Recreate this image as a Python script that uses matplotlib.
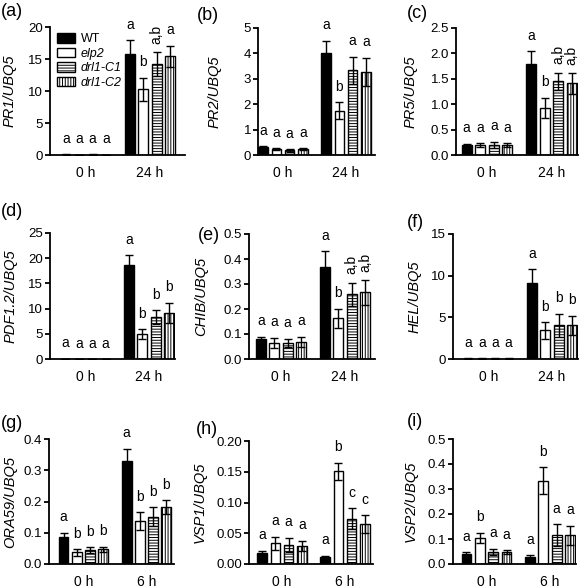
import matplotlib
matplotlib.use('Agg')
import matplotlib.pyplot as plt
from matplotlib.patches import Patch
from matplotlib.ticker import FormatStrFormatter
import numpy as np

plt.rcParams['font.family'] = ['Liberation Sans', 'DejaVu Sans']
plt.rcParams['hatch.linewidth'] = 0.7

# ---------------- data ----------------
genotypes = ['WT', 'elp2', 'drl1-C1', 'drl1-C2']
times_24 = ['0 h', '24 h']
times_6 = ['0 h', '6 h']

pr1_0h = [0.06, 0.05, 0.06, 0.05]
pr1_0h_err = [0.02, 0.02, 0.02, 0.02]
pr1_24h = [15.8, 10.3, 14.2, 15.4]
pr1_24h_err = [2.1, 1.8, 1.9, 1.7]
pr1_letters = ['a', 'a', 'a', 'a', 'a', 'b', 'a,b', 'a']

pr2_0h = [0.30, 0.22, 0.18, 0.22]
pr2_0h_err = [0.05, 0.04, 0.05, 0.04]
pr2_24h = [4.0, 1.75, 3.34, 3.28]
pr2_24h_err = [0.5, 0.33, 0.53, 0.55]
pr2_letters = ['a', 'a', 'a', 'a', 'a', 'b', 'a', 'a']

pr5_0h = [0.20, 0.19, 0.20, 0.19]
pr5_0h_err = [0.02, 0.04, 0.06, 0.04]
pr5_24h = [1.79, 0.93, 1.45, 1.41]
pr5_24h_err = [0.25, 0.20, 0.17, 0.20]
pr5_letters = ['a', 'a', 'a', 'a', 'a', 'b', 'a,b', 'a,b']

pdf_0h = [0.03, 0.02, 0.02, 0.02]
pdf_0h_err = [0.01, 0.01, 0.01, 0.01]
pdf_24h = [18.6, 4.9, 8.25, 9.2]
pdf_24h_err = [2.0, 1.0, 1.4, 2.0]
pdf_letters = ['a', 'a', 'a', 'a', 'a', 'b', 'b', 'b']

chib_0h = [0.080, 0.066, 0.064, 0.070]
chib_0h_err = [0.010, 0.020, 0.017, 0.020]
chib_24h = [0.370, 0.164, 0.259, 0.267]
chib_24h_err = [0.062, 0.038, 0.046, 0.049]
chib_letters = ['a', 'a', 'a', 'a', 'a', 'b', 'a,b', 'a,b']

hel_0h = [0.05, 0.05, 0.05, 0.05]
hel_0h_err = [0.02, 0.02, 0.02, 0.02]
hel_24h = [9.1, 3.43, 4.03, 4.03]
hel_24h_err = [1.7, 1.0, 1.4, 1.16]
hel_letters = ['a', 'a', 'a', 'a', 'a', 'b', 'b', 'b']

ora_0h = [0.088, 0.037, 0.044, 0.047]
ora_0h_err = [0.012, 0.011, 0.010, 0.009]
ora_6h = [0.330, 0.138, 0.152, 0.182]
ora_6h_err = [0.039, 0.028, 0.030, 0.023]
ora_letters = ['a', 'b', 'b', 'b', 'a', 'b', 'b', 'b']

vsp1_0h = [0.0173, 0.0335, 0.0308, 0.0297]
vsp1_0h_err = [0.0043, 0.011, 0.012, 0.008]
vsp1_6h = [0.0119, 0.151, 0.0735, 0.0649]
vsp1_6h_err = [0.0016, 0.014, 0.017, 0.014]
vsp1_letters = ['a', 'a', 'a', 'a', 'a', 'b', 'c', 'c']

vsp2_0h = [0.039, 0.106, 0.048, 0.048]
vsp2_0h_err = [0.009, 0.020, 0.013, 0.008]
vsp2_6h = [0.029, 0.334, 0.116, 0.116]
vsp2_6h_err = [0.006, 0.054, 0.043, 0.038]
vsp2_letters = ['a', 'b', 'a', 'a', 'a', 'b', 'a', 'a']

# ---------------- styling ----------------
fills = ['black', 'white', 'white', 'white']
hatches = ['', '', '------', '||||||']

W, H = 585, 588
fig = plt.figure(figsize=(W / 100, H / 100), dpi=100)

panels = [
    # tag, ylabel, times, m0, e0, m1, e1, letters, ymax, step, fmt
    ('(a)', 'PR1/UBQ5', times_24, pr1_0h, pr1_0h_err, pr1_24h, pr1_24h_err, pr1_letters, 20, 5, '%d'),
    ('(b)', 'PR2/UBQ5', times_24, pr2_0h, pr2_0h_err, pr2_24h, pr2_24h_err, pr2_letters, 5, 1, '%d'),
    ('(c)', 'PR5/UBQ5', times_24, pr5_0h, pr5_0h_err, pr5_24h, pr5_24h_err, pr5_letters, 2.5, 0.5, '%.1f'),
    ('(d)', 'PDF1.2/UBQ5', times_24, pdf_0h, pdf_0h_err, pdf_24h, pdf_24h_err, pdf_letters, 25, 5, '%d'),
    ('(e)', 'CHIB/UBQ5', times_24, chib_0h, chib_0h_err, chib_24h, chib_24h_err, chib_letters, 0.5, 0.1, '%.1f'),
    ('(f)', 'HEL/UBQ5', times_24, hel_0h, hel_0h_err, hel_24h, hel_24h_err, hel_letters, 15, 5, '%d'),
    ('(g)', 'ORA59/UBQ5', times_6, ora_0h, ora_0h_err, ora_6h, ora_6h_err, ora_letters, 0.4, 0.1, '%.1f'),
    ('(h)', 'VSP1/UBQ5', times_6, vsp1_0h, vsp1_0h_err, vsp1_6h, vsp1_6h_err, vsp1_letters, 0.20, 0.05, '%.2f'),
    ('(i)', 'VSP2/UBQ5', times_6, vsp2_0h, vsp2_0h_err, vsp2_6h, vsp2_6h_err, vsp2_letters, 0.5, 0.1, '%.1f'),
]

# layout in pixels: axis_x, c0, c1, end_x, top_y, bottom_y, ylabel_x, tag_x, tag_y
layout = [
    (50, 86, 150, 185, 27, 155, 17, 1, 12),
    (258, 283, 346, 375, 28, 155, 222, 197, 15),
    (456, 487, 551.5, 578, 28, 155, 418, 407, 13),
    (50, 85.5, 149, 175, 233, 359, 18, 1, 212),
    (249, 281, 345, 375, 234, 359, 208, 198, 236),
    (453, 488.5, 552, 578, 234, 359, 422, 407, 223),
    (49, 83.4, 146.5, 174, 439, 564, 17, 1, 423),
    (249, 282, 345, 373, 441, 564, 207, 196, 430),
    (453, 486.5, 550, 576, 439, 564, 418, 407, 422),
]

spacing = 0.21
width = 0.155
offsets = (np.arange(4) - 1.5) * spacing

axes = []
for (tag, ylab, times, m0, e0, m1, e1, letters, ymax, step, fmt), \
        (ax_x, c0, c1, end_x, top_y, bot_y, ylab_x, tag_x, tag_y) in zip(panels, layout):
    rect = [ax_x / W, 1 - bot_y / H, (end_x - ax_x) / W, (bot_y - top_y) / H]
    ax = fig.add_axes(rect)
    axes.append(ax)
    gd = c1 - c0
    ax.set_xlim((ax_x - c0) / gd, 1 + (end_x - c1) / gd)
    ax.set_ylim(0, ymax)

    for g in range(4):
        xs = np.array([0, 1]) + offsets[g]
        vals = [m0[g], m1[g]]
        errs = [e0[g], e1[g]]
        ax.bar(xs, vals, width=width, color=fills[g], edgecolor='black',
               linewidth=1.0, hatch=hatches[g], zorder=2)
        ax.errorbar(xs, vals, yerr=errs, fmt='none', ecolor='black',
                    elinewidth=1.0, capsize=2.6, capthick=1.0, zorder=3)
        for t in range(2):
            lab = letters[t * 4 + g]
            rot = 90 if ',' in lab else 0
            ax.annotate(lab, (xs[t], vals[t] + errs[t]), xytext=(0, 6.0),
                        textcoords='offset points', ha='center', va='bottom',
                        rotation=rot, fontsize=10, annotation_clip=False)

    ax.set_yticks(np.arange(0, ymax + step / 2, step))
    ax.yaxis.set_major_formatter(FormatStrFormatter(fmt))
    ax.set_xticks([0, 1])
    ax.set_xticklabels(times)
    ax.tick_params(axis='x', length=0, pad=8, labelsize=10)
    ax.tick_params(axis='y', direction='out', length=3.5, width=1.3, labelsize=9.5, pad=1.5)
    for s in ['top', 'right']:
        ax.spines[s].set_visible(False)
    for s in ['left', 'bottom']:
        ax.spines[s].set_linewidth(1.3)
    ax.set_ylabel(ylab, fontsize=10.5, style='italic')
    ax.yaxis.set_label_coords((ylab_x - ax_x) / (end_x - ax_x), 0.5)
    fig.text(tag_x / W, 1 - tag_y / H, tag, fontsize=13, ha='left', va='center')

# legend in panel (a)
handles = [Patch(facecolor=fills[i], edgecolor='black', hatch=hatches[i], linewidth=1.0)
           for i in range(4)]
leg = axes[0].legend(handles, genotypes, loc='upper left',
                     bbox_to_anchor=(57 / W, 1 - 33 / H), bbox_transform=fig.transFigure,
                     frameon=False, fontsize=9, borderpad=0, borderaxespad=0,
                     handlelength=1.45, handleheight=0.8, handletextpad=0.45,
                     labelspacing=0.2)
for t in leg.get_texts()[1:]:
    t.set_style('italic')

fig.savefig('out.png', dpi=100)
